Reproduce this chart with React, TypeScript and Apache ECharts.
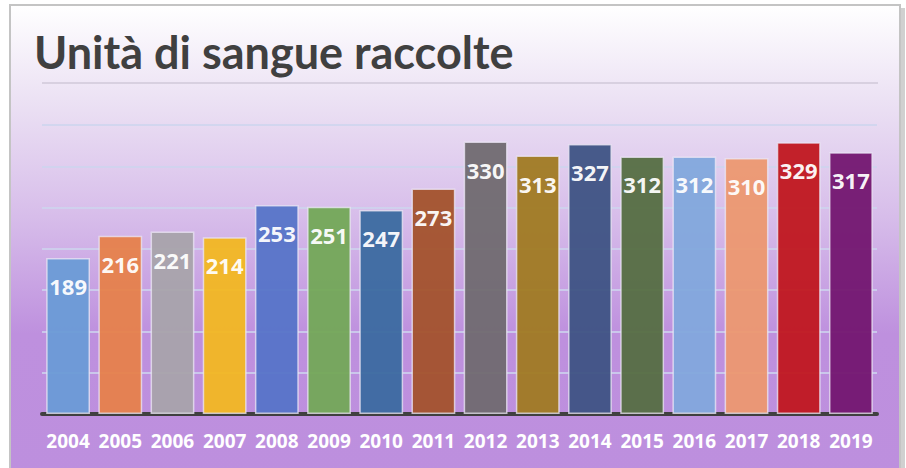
import React, { useEffect, useRef } from "react";
import * as echarts from "echarts";

const years = ["2004","2005","2006","2007","2008","2009","2010","2011","2012","2013","2014","2015","2016","2017","2018","2019"];
const units = [189,216,221,214,253,251,247,273,330,313,327,312,312,310,329,317];
const barColors = ["#6a9bd6","#e6814b","#a8a3ab","#f2b722","#5674c8","#73a857","#3b6aa0","#a3522c","#706a70","#a07a22","#3e5384","#556e42","#82a8dc","#ec9870","#c0171f","#731670"];
const titleText = "Unità di sangue raccolte";

export default function App() {
  const ref = useRef<HTMLDivElement>(null);
  useEffect(() => {
    document.body.style.margin = "0";
    const chart = echarts.init(ref.current!, null, { renderer: "svg" });
    chart.setOption({
      animation: false,
      backgroundColor: "#ffffff",
      graphic: [
        {
          type: "rect",
          z: -10,
          silent: true,
          shape: { x: 10, y: 5, width: 890, height: 470 },
          style: {
            fill: new echarts.graphic.LinearGradient(0, 0, 0, 1, [
              { offset: 0, color: "#ffffff" },
              { offset: 0.2, color: "#ece2f4" },
              { offset: 0.45, color: "#d7bdea" },
              { offset: 0.7, color: "#be90de" },
              { offset: 1, color: "#bd8fde" },
            ]),
            stroke: "#c4c4c4",
            lineWidth: 2,
          },
        },
        {
          type: "rect",
          z: -11,
          silent: true,
          shape: { x: 901, y: 8, width: 4, height: 470 },
          style: { fill: "#d0d0d0" },
        },
        {
          type: "line",
          silent: true,
          shape: { x1: 42, y1: 83, x2: 878, y2: 83 },
          style: { stroke: "#d8d0e0", lineWidth: 2 },
        },
        {
          type: "text",
          left: 34,
          top: 29,
          style: {
            text: titleText,
            fontFamily: "Lato",
            fontWeight: "bold",
            fontSize: 45,
            fill: "#404040",
          },
        },
      ],
      grid: { left: 42, right: 29, top: 125, bottom: 54, containLabel: false },
      xAxis: {
        type: "category",
        data: years,
        axisLine: { lineStyle: { color: "#404040", width: 4 } },
        axisTick: { show: false },
        axisLabel: {
          color: "#ffffff",
          fontWeight: "bold",
          fontSize: 19,
          fontFamily: "Open Sans",
          margin: 17,
          interval: 0,
        },
      },
      yAxis: {
        type: "value",
        min: 0,
        max: 350,
        interval: 50,
        axisLabel: { show: false },
        axisLine: { show: false },
        axisTick: { show: false },
        splitLine: { lineStyle: { color: "rgba(205,212,238,0.8)", width: 2 } },
      },
      series: [
        {
          type: "bar",
          barCategoryGap: "16%",
          data: units.map((v, i) => ({
            value: v,
            itemStyle: { color: barColors[i] },
          })),
          itemStyle: {
            opacity: 0.95,
            borderColor: "rgba(235,230,245,0.8)",
            borderWidth: 1.5,
          },
          label: {
            show: true,
            position: "insideTop",
            distance: 17,
            color: "#ffffff",
            fontWeight: "bold",
            fontSize: 22,
            fontFamily: "Open Sans",
          },
        },
      ],
    });
    return () => chart.dispose();
  }, []);
  return <div ref={ref} style={{ width: 906, height: 468 }} />;
}
